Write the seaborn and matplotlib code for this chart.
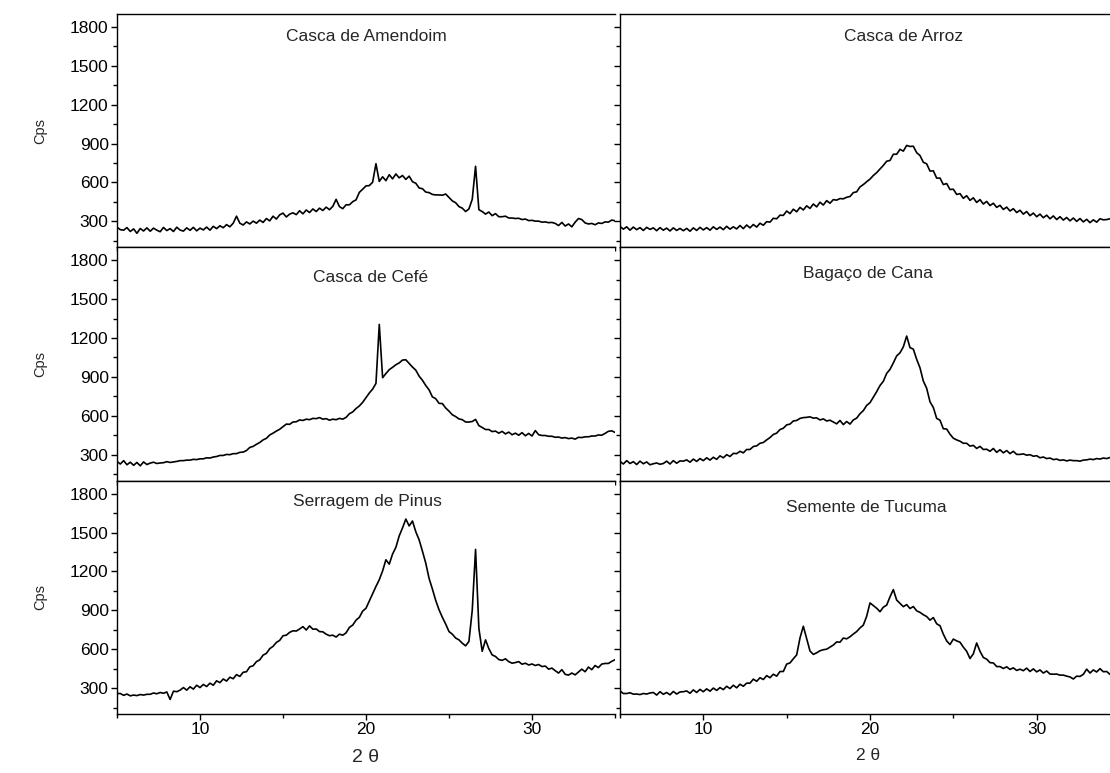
import numpy as np
import matplotlib
matplotlib.use("Agg")
import matplotlib.pyplot as plt
import seaborn as sns
from matplotlib.ticker import MultipleLocator

# 2 theta grid, 5 to 35 deg in 0.2 deg steps (151 points)
two_theta = np.linspace(5, 35, 151)

titles = ["Casca de Amendoim", "Casca de Arroz", "Casca de Cefé",
          "Bagaço de Cana", "Serragem de Pinus", "Semente de Tucuma"]

amendoim = [
    255, 236, 232, 252, 222, 242, 208, 245, 226, 250,
    224, 248, 232, 220, 253, 229, 244, 222, 255, 233,
    225, 250, 231, 254, 227, 248, 234, 256, 232, 262,
    244, 266, 251, 275, 258, 286, 340, 286, 272, 296,
    280, 302, 286, 310, 292, 322, 304, 340, 318, 350,
    364, 334, 356, 366, 352, 382, 358, 388, 368, 396,
    376, 402, 384, 410, 390, 416, 470, 414, 398, 428,
    428, 452, 466, 524, 548, 574, 576, 602, 745, 608,
    644, 614, 660, 628, 666, 636, 654, 624, 649, 606,
    594, 558, 552, 526, 522, 508, 504, 504, 502, 511,
    484, 458, 444, 414, 402, 376, 396, 470, 725, 390,
    376, 356, 372, 344, 360, 336, 336, 340, 326, 326,
    322, 324, 314, 318, 306, 308, 302, 302, 294, 296,
    290, 292, 284, 268, 292, 264, 280, 258, 294, 322,
    314, 288, 280, 284, 274, 288, 284, 296, 294, 310,
    305,
]

arroz = [
    262, 240, 258, 232, 256, 236, 252, 230, 254, 238,
    250, 228, 252, 232, 248, 226, 250, 230, 246, 228,
    246, 224, 250, 230, 254, 234, 252, 232, 258, 238,
    256, 236, 262, 240, 258, 242, 268, 244, 272, 250,
    276, 256, 286, 270, 298, 294, 324, 320, 348, 346,
    380, 360, 394, 374, 408, 388, 420, 400, 434, 412,
    448, 426, 460, 440, 468, 464, 476, 474, 486, 492,
    522, 528, 566, 584, 606, 626, 654, 676, 704, 732,
    764, 770, 818, 818, 856, 842, 886, 878, 880, 830,
    808, 756, 744, 688, 690, 634, 634, 584, 592, 546,
    548, 508, 514, 478, 498, 462, 482, 446, 468, 434,
    454, 422, 440, 408, 424, 392, 410, 380, 398, 368,
    386, 356, 376, 344, 364, 336, 356, 328, 348, 320,
    342, 314, 336, 310, 330, 304, 326, 300, 322, 296,
    316, 290, 312, 294, 320, 312, 314, 320, 342, 336,
    354,
]

cafe = [
    248, 228, 254, 222, 242, 218, 240, 214, 244, 224,
    235, 242, 232, 236, 238, 246, 240, 244, 248, 254,
    254, 258, 258, 264, 262, 268, 268, 276, 274, 282,
    286, 294, 294, 302, 300, 308, 308, 318, 320, 332,
    356, 364, 380, 394, 414, 426, 452, 466, 482, 496,
    516, 536, 534, 552, 554, 568, 564, 574, 570, 580,
    578, 586, 574, 578, 566, 574, 570, 580, 574, 588,
    616, 630, 656, 676, 704, 740, 776, 806, 850, 1305,
    894, 926, 956, 974, 994, 1008, 1030, 1032, 1004, 976,
    952, 906, 874, 834, 800, 746, 732, 696, 694, 660,
    636, 608, 594, 576, 570, 552, 552, 556, 572, 524,
    510, 494, 494, 478, 482, 466, 480, 460, 474, 454,
    466, 450, 470, 446, 464, 444, 486, 454, 448, 448,
    442, 442, 434, 436, 428, 432, 424, 428, 420, 434,
    432, 438, 438, 444, 444, 452, 450, 464, 480, 484,
    472,
]

bagaco = [
    248, 228, 254, 232, 246, 224, 250, 230, 244, 222,
    230, 236, 226, 232, 250, 228, 254, 234, 252, 250,
    260, 242, 266, 248, 270, 254, 276, 258, 280, 264,
    291, 276, 300, 286, 310, 308, 326, 314, 340, 340,
    363, 368, 388, 394, 414, 432, 456, 466, 494, 504,
    530, 536, 560, 564, 580, 586, 588, 592, 582, 584,
    568, 576, 560, 566, 552, 538, 564, 532, 556, 536,
    568, 582, 616, 640, 680, 701, 744, 786, 834, 866,
    927, 958, 1008, 1062, 1086, 1132, 1215, 1126, 1114, 1036,
    970, 868, 812, 708, 664, 580, 566, 500, 498, 458,
    427, 414, 404, 388, 388, 366, 372, 348, 364, 340,
    342, 326, 348, 318, 338, 314, 332, 308, 326, 302,
    302, 306, 296, 300, 288, 292, 276, 282, 270, 274,
    262, 266, 256, 260, 252, 258, 254, 254, 250, 258,
    260, 266, 262, 270, 266, 274, 270, 278, 276, 284,
    284,
]

pinus = [
    258, 258, 244, 254, 240, 246, 242, 250, 246, 252,
    252, 262, 256, 266, 260, 270, 212, 276, 272, 284,
    304, 284, 310, 292, 322, 304, 328, 312, 338, 322,
    356, 342, 370, 354, 384, 372, 404, 390, 422, 426,
    464, 472, 504, 518, 554, 568, 604, 622, 652, 668,
    704, 708, 730, 742, 740, 756, 774, 748, 780, 754,
    756, 736, 734, 716, 704, 708, 694, 716, 708, 726,
    768, 786, 824, 846, 894, 916, 972, 1026, 1084, 1136,
    1204, 1290, 1256, 1334, 1386, 1474, 1536, 1604, 1551, 1589,
    1506, 1444, 1356, 1264, 1146, 1064, 976, 904, 846, 794,
    736, 716, 686, 672, 646, 626, 660, 900, 1370, 760,
    584, 672, 604, 556, 544, 520, 514, 526, 504, 492,
    497, 504, 484, 492, 478, 486, 474, 482, 466, 470,
    446, 454, 434, 416, 442, 406, 400, 416, 402, 424,
    446, 426, 462, 442, 474, 458, 485, 490, 490, 506,
    519,
]

tucuma = [
    278, 258, 258, 264, 253, 254, 250, 258, 254, 262,
    266, 246, 272, 252, 266, 248, 274, 254, 270, 272,
    278, 260, 286, 266, 290, 272, 294, 276, 300, 282,
    304, 288, 314, 296, 322, 302, 330, 314, 338, 338,
    369, 352, 380, 366, 396, 380, 407, 392, 428, 428,
    485, 494, 526, 556, 687, 777, 680, 586, 560, 572,
    588, 596, 600, 616, 632, 656, 654, 686, 680, 696,
    717, 736, 764, 786, 854, 957, 936, 916, 889, 924,
    940, 1004, 1060, 979, 954, 928, 944, 914, 929, 896,
    884, 866, 852, 824, 844, 796, 781, 716, 664, 636,
    678, 664, 654, 616, 584, 528, 564, 648, 584, 536,
    523, 496, 494, 466, 466, 451, 464, 444, 456, 436,
    446, 434, 454, 428, 448, 425, 440, 416, 432, 408,
    407, 408, 400, 400, 392, 386, 370, 392, 390, 406,
    446, 416, 440, 424, 450, 426, 428, 406, 432, 436,
    429,
]

# where each panel's name sits (data coords)
title_x = [20, 22, 20.3, 19.9, 20.1, 19.8]
title_y = [1730, 1730, 1668, 1700, 1738, 1692]


def main():
    sns.set_style("ticks")
    plt.rcParams["font.family"] = ["Liberation Sans", "DejaVu Sans"]

    fig = plt.figure(figsize=(11.1, 7.73), dpi=100)
    W, H = 1110, 773
    col_left = [117, 620]
    col_width = [498, 500]
    row_top = [14, 247.3, 480.7]
    row_h = 233.3

    series = [amendoim, arroz, cafe, bagaco, pinus, tucuma]
    for i, vals in enumerate(series):
        r, c = divmod(i, 2)
        ax = fig.add_axes([col_left[c] / W, (H - row_top[r] - row_h) / H,
                           col_width[c] / W, row_h / H])
        sns.lineplot(x=two_theta, y=vals, ax=ax, color="black",
                     linewidth=1.2, sort=False)
        ax.set_xlim(5, 35)
        ax.set_ylim(100, 1900)
        ax.xaxis.set_major_locator(MultipleLocator(10))
        ax.xaxis.set_minor_locator(MultipleLocator(5))
        ax.yaxis.set_major_locator(MultipleLocator(300))
        ax.yaxis.set_minor_locator(MultipleLocator(150))
        ax.tick_params(which="both", direction="out", width=1, colors="black",
                       labelsize=12.5, pad=2)
        ax.tick_params(which="major", length=4)
        ax.tick_params(which="minor", length=3)
        ax.set_xlabel("")
        ax.set_ylabel("")
        for s in ax.spines.values():
            s.set_linewidth(1.0)
            s.set_color("black")
        if c == 0:
            ax.spines["right"].set_visible(False)
        else:
            ax.tick_params(axis="y", labelleft=False)
        if r < 2:
            ax.tick_params(axis="x", labelbottom=False)
        ax.text(title_x[i], title_y[i], titles[i], ha="center", va="center",
                fontsize=12.5)

    for r in range(3):
        yc = (H - row_top[r] - row_h / 2) / H
        fig.text(40 / W, yc, "Cps", rotation=90, ha="center", va="center",
                 fontsize=10.5)

    fig.text(365 / W, 1 - 758 / H, "2 θ", ha="center", va="center", fontsize=14)
    fig.text(868 / W, 1 - 755 / H, "2 θ", ha="center", va="center", fontsize=12.5)

    fig.savefig("out.png", dpi=100)


if __name__ == "__main__":
    main()
